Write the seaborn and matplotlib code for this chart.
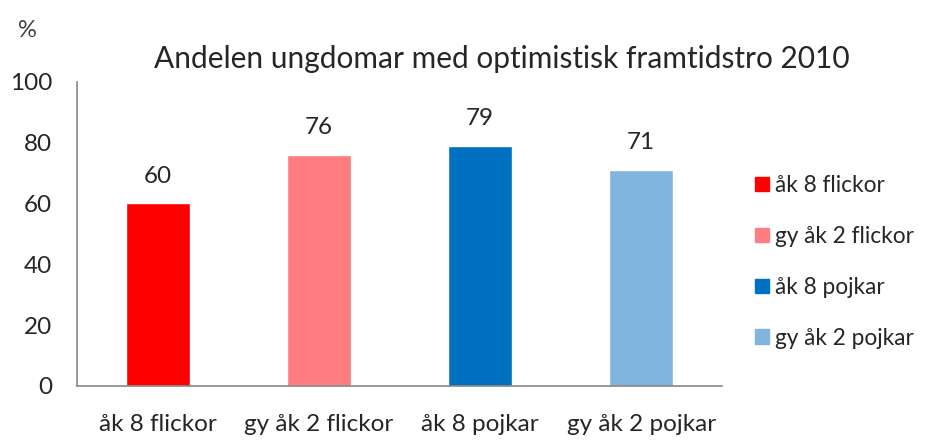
import numpy as np
import pandas as pd
import matplotlib.pyplot as plt
import seaborn as sns
from matplotlib.ticker import FixedLocator

categories = ['åk 8 flickor', 'gy åk 2 flickor', 'åk 8 pojkar', 'gy åk 2 pojkar']
values = [60, 76, 79, 71]
colors = ['#ff0000', '#ff7c80', '#0070c0', '#7fb5de']
title = 'Andelen ungdomar med optimistisk framtidstro 2010'

sns.set_style('white')
plt.rcParams['font.family'] = ['Lato', 'DejaVu Sans']

df = pd.DataFrame({'grupp': categories, 'andel': values})

fig = plt.figure(figsize=(9.3, 4.4), dpi=100)
ax = fig.add_axes([0.083, 0.123, 0.693, 0.691])

sns.barplot(data=df, x='grupp', y='andel', hue='grupp', palette=colors,
            width=0.4, dodge=False, legend=False, saturation=1, ax=ax)

# value labels above bars
for i, v in enumerate(values):
    ax.text(i, v + 9, str(v), ha='center', va='center', fontsize=17.5)

ax.set_ylim(0, 100)
ax.set_xlim(-0.5, len(categories) - 0.5)
ax.set_yticks(np.arange(0, 101, 20))
ax.set_xlabel('')
ax.set_ylabel('')
ax.tick_params(axis='y', labelsize=17.5, length=6, color='#878787', pad=12)
ax.tick_params(axis='x', which='major', labelsize=17.5, length=0, pad=20)
ax.xaxis.set_minor_locator(FixedLocator(np.arange(-0.5, len(categories), 1)))
ax.tick_params(axis='x', which='minor', length=6, color='#878787')
for s in ['top', 'right']:
    ax.spines[s].set_visible(False)
for s in ['left', 'bottom']:
    ax.spines[s].set_color('#878787')
    ax.spines[s].set_linewidth(1.2)

# legend
handles = [plt.Rectangle((0, 0), 1, 1, color=c) for c in colors]
fig.legend(handles, categories, loc='center left', bbox_to_anchor=(0.79, 0.405),
           frameon=False, fontsize=16.3, handlelength=0.6, handleheight=0.6,
           handletextpad=0.3, labelspacing=1.32)

fig.text(0.54, 0.865, title, ha='center', va='center', fontsize=21.5)
fig.text(0.03, 0.93, '%', ha='center', va='center', fontsize=17, color='#404040')

fig.savefig('out.png', dpi=100)
